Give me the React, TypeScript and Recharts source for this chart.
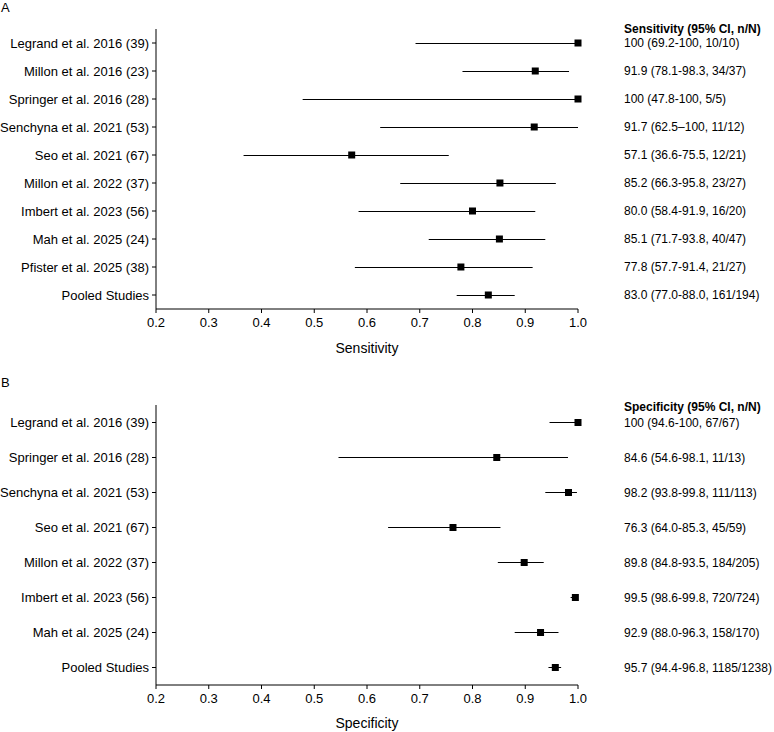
import { Bar, ComposedChart, Line, XAxis, YAxis } from "recharts";

// Panel A: sensitivity by study
const sensStudies = [
  "Legrand et al. 2016 (39)",
  "Millon et al. 2016 (23)",
  "Springer et al. 2016 (28)",
  "Senchyna et al. 2021 (53)",
  "Seo et al. 2021 (67)",
  "Millon et al. 2022 (37)",
  "Imbert et al. 2023 (56)",
  "Mah et al. 2025 (24)",
  "Pfister et al. 2025 (38)",
  "Pooled Studies",
];
const sensEst = [1.0, 0.919, 1.0, 0.917, 0.571, 0.852, 0.8, 0.851, 0.778, 0.83];
const sensLow = [0.692, 0.781, 0.478, 0.625, 0.366, 0.663, 0.584, 0.717, 0.577, 0.77];
const sensHigh = [1.0, 0.983, 1.0, 1.0, 0.755, 0.958, 0.919, 0.938, 0.914, 0.88];
const sensText = [
  "100 (69.2-100, 10/10)",
  "91.9 (78.1-98.3, 34/37)",
  "100 (47.8-100, 5/5)",
  "91.7 (62.5\u2013100, 11/12)",
  "57.1 (36.6-75.5, 12/21)",
  "85.2 (66.3-95.8, 23/27)",
  "80.0 (58.4-91.9, 16/20)",
  "85.1 (71.7-93.8, 40/47)",
  "77.8 (57.7-91.4, 21/27)",
  "83.0 (77.0-88.0, 161/194)",
];

// Panel B: specificity by study
const specStudies = [
  "Legrand et al. 2016 (39)",
  "Springer et al. 2016 (28)",
  "Senchyna et al. 2021 (53)",
  "Seo et al. 2021 (67)",
  "Millon et al. 2022 (37)",
  "Imbert et al. 2023 (56)",
  "Mah et al. 2025 (24)",
  "Pooled Studies",
];
const specEst = [1.0, 0.846, 0.982, 0.763, 0.898, 0.995, 0.929, 0.957];
const specLow = [0.946, 0.546, 0.938, 0.64, 0.848, 0.986, 0.88, 0.944];
const specHigh = [1.0, 0.981, 0.998, 0.853, 0.935, 0.998, 0.963, 0.968];
const specText = [
  "100 (94.6-100, 67/67)",
  "84.6 (54.6-98.1, 11/13)",
  "98.2 (93.8-99.8, 111/113)",
  "76.3 (64.0-85.3, 45/59)",
  "89.8 (84.8-93.5, 184/205)",
  "99.5 (98.6-99.8, 720/724)",
  "92.9 (88.0-96.3, 158/170)",
  "95.7 (94.4-96.8, 1185/1238)",
];

const xTicks = [0.2, 0.3, 0.4, 0.5, 0.6, 0.7, 0.8, 0.9, 1.0];

const FONT = '"Liberation Sans", Arial, Helvetica, sans-serif';

function Square(props: any) {
  const { cx, cy, index } = props;
  if (cx == null || cy == null) return <g key={`sq-${index}`} />;
  return <rect key={`sq-${index}`} x={cx - 3.5} y={cy - 3.5} width={7} height={7} fill="#000" />;
}

// plain svg text so long study names stay on one line
function StudyTick(props: any) {
  const { x, y, payload } = props;
  return (
    <text x={x} y={y} dy="0.355em" textAnchor="end" fill="#000" fontSize={13}>
      {payload.value}
    </text>
  );
}

function CiTick(props: any) {
  const { x, y, payload } = props;
  return (
    <text x={x} y={y} dy="0.355em" textAnchor="start" fill="#000" fontSize={12}>
      {payload.value}
    </text>
  );
}

function ForestPanel(props: {
  studies: string[];
  est: number[];
  low: number[];
  high: number[];
  text: string[];
  title: string;
  height: number;
  axisHeight: number;
  bottom: number;
}) {
  const { studies, est, low, high, text, title, height, axisHeight, bottom } = props;

  const rows = studies.map((s, i) => ({
    study: s,
    ci: text[i],
    est: est[i],
    range: [low[i], high[i]],
  }));

  return (
    <ComposedChart
      width={774}
      height={height}
      data={rows}
      layout="vertical"
      margin={{ top: 29, right: 0, left: 0, bottom }}
    >
      <XAxis
        type="number"
        domain={[0.2, 1]}
        ticks={xTicks}
        interval={0}
        tickFormatter={(v: number) => v.toFixed(1)}
        height={axisHeight}
        tickSize={4}
        tickMargin={5}
        stroke="#000"
        tick={{ fill: "#000", fontSize: 13 }}
        label={{ value: title, position: "insideBottom", offset: 0, fill: "#000", fontSize: 14 }}
      />
      <YAxis
        type="category"
        dataKey="study"
        width={156}
        interval={0}
        tickSize={4}
        tickMargin={3}
        stroke="#000"
        tick={StudyTick}
      />
      <YAxis
        yAxisId="right"
        orientation="right"
        type="category"
        dataKey="ci"
        width={196}
        interval={0}
        tickSize={0}
        tickMargin={46}
        axisLine={false}
        tickLine={false}
        tick={CiTick}
      />
      <Bar dataKey="range" barSize={1} fill="#000" isAnimationActive={false} />
      <Line
        yAxisId="right"
        dataKey="est"
        stroke="none"
        dot={Square}
        activeDot={false}
        isAnimationActive={false}
      />
    </ComposedChart>
  );
}

export default function App() {
  return (
    <div
      style={{
        position: "absolute",
        left: 0,
        top: 0,
        width: 774,
        height: 732,
        background: "#fff",
        fontFamily: FONT,
        color: "#000",
      }}
    >
      <div style={{ position: "absolute", left: 1, top: 0, fontSize: 13, lineHeight: "15px" }}>A</div>
      <div
        style={{ position: "absolute", left: 624, top: 22, fontSize: 12, lineHeight: "14px", fontWeight: "bold" }}
      >
        Sensitivity (95% CI, n/N)
      </div>
      <div style={{ position: "absolute", left: 0, top: 0 }}>
        <ForestPanel
          studies={sensStudies}
          est={sensEst}
          low={sensLow}
          high={sensHigh}
          text={sensText}
          title="Sensitivity"
          height={360}
          axisHeight={44}
          bottom={7}
        />
      </div>

      <div style={{ position: "absolute", left: 1, top: 375, fontSize: 13, lineHeight: "15px" }}>B</div>
      <div
        style={{ position: "absolute", left: 624, top: 400, fontSize: 12, lineHeight: "14px", fontWeight: "bold" }}
      >
        Specificity (95% CI, n/N)
      </div>
      <div style={{ position: "absolute", left: 0, top: 376 }}>
        <ForestPanel
          studies={specStudies}
          est={specEst}
          low={specLow}
          high={specHigh}
          text={specText}
          title="Specificity"
          height={356}
          axisHeight={43}
          bottom={4}
        />
      </div>
    </div>
  );
}
